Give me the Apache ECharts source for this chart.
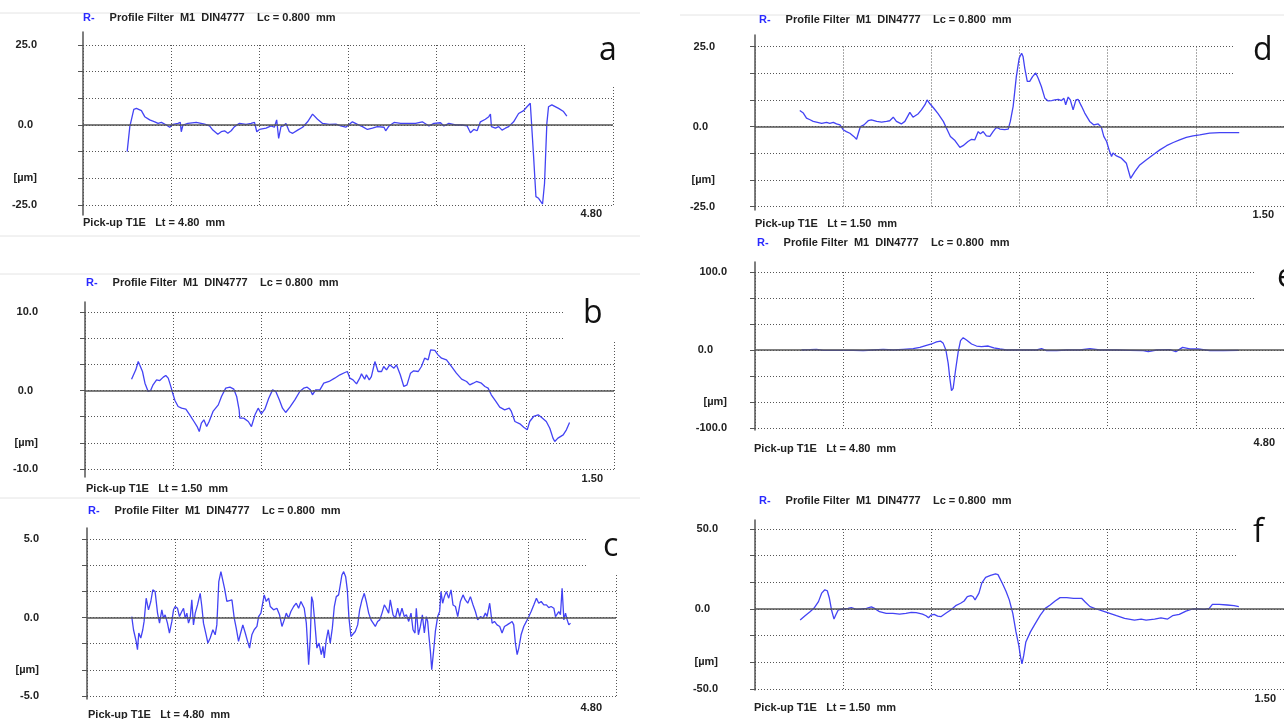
<!DOCTYPE html>
<html>
<head>
<meta charset="utf-8">
<script src="https://cdn.jsdelivr.net/npm/echarts@6/dist/echarts.min.js"></script>
<style>
  html, body { margin: 0; padding: 0; background: #fff; }
  #chart { width: 1284px; height: 719px; }
</style>
</head>
<body>
<div id="chart"></div>
<script>
// profile traces: [position mm, height µm]
const profA = [[0.40,-8.3],[0.424,-0.5],[0.46,4.9],[0.484,5.2],[0.529,4.5],[0.559,2.6],[0.604,1.6],[0.65,1.0],[0.68,0.5],[0.71,0.8],[0.755,0.0],[0.785,-0.7],[0.815,0.2],[0.86,0.5],[0.881,0.8],[0.89,-2.1],[0.905,0.0],[0.95,0.5],[1.026,0.8],[1.101,0.3],[1.146,-0.3],[1.176,-1.6],[1.221,-2.9],[1.252,-2.1],[1.282,-1.8],[1.312,-2.6],[1.342,-1.8],[1.372,-0.5],[1.417,0.5],[1.477,0.2],[1.522,0.5],[1.553,0.8],[1.574,-2.1],[1.598,-1.4],[1.658,-1.0],[1.703,-0.3],[1.733,-0.7],[1.754,1.6],[1.772,-4.2],[1.793,-0.5],[1.814,-0.3],[1.838,0.5],[1.869,-2.1],[1.899,-2.6],[1.944,-1.6],[1.989,-0.7],[2.034,1.0],[2.079,3.4],[2.124,1.8],[2.17,0.5],[2.23,0.2],[2.29,0.3],[2.335,-0.3],[2.38,-0.7],[2.44,1.0],[2.486,0.2],[2.531,-0.5],[2.576,-1.4],[2.621,-1.0],[2.666,-0.5],[2.726,-0.7],[2.741,-1.8],[2.772,-0.3],[2.817,0.8],[2.877,0.5],[2.952,0.5],[3.012,0.5],[3.073,1.0],[3.133,-0.3],[3.178,0.5],[3.238,0.7],[3.268,-0.3],[3.313,0.5],[3.374,0.0],[3.434,0.0],[3.479,-0.3],[3.509,-2.4],[3.539,-1.4],[3.569,-1.8],[3.599,1.0],[3.644,1.8],[3.675,2.6],[3.69,3.4],[3.699,-0.5],[3.735,-1.0],[3.765,-0.5],[3.795,-1.6],[3.825,-1.0],[3.855,-0.5],[3.9,1.0],[3.945,3.6],[3.991,4.5],[4.021,5.7],[4.051,6.8],[4.066,6.6],[4.081,-9.9],[4.102,-22.4],[4.126,-22.9],[4.141,-22.6],[4.162,-24.7],[4.18,-18.2],[4.201,0.5],[4.216,5.7],[4.246,6.3],[4.307,5.2],[4.352,4.2],[4.382,2.8]];

const profB = [[0.132,1.44],[0.137,1.23],[0.144,2.63],[0.151,3.69],[0.156,3.57],[0.163,2.42],[0.170,0.93],[0.179,-0.13],[0.186,0],[0.193,0.72],[0.203,1.36],[0.212,1.27],[0.222,1.70],[0.229,1.91],[0.236,1.57],[0.242,0.72],[0.250,-0.55],[0.255,-1.27],[0.264,-2.04],[0.274,-2.25],[0.286,-2.38],[0.297,-3.10],[0.309,-3.95],[0.318,-4.59],[0.324,-5.22],[0.330,-4.16],[0.337,-3.74],[0.345,-4.59],[0.352,-3.95],[0.363,-2.67],[0.378,-1.83],[0.387,-0.76],[0.399,0.30],[0.411,0.42],[0.422,0.17],[0.430,-0.76],[0.437,-2.46],[0.439,-3.52],[0.450,-3.52],[0.463,-3.95],[0.472,-4.59],[0.482,-3.10],[0.491,-2.25],[0.500,-2.97],[0.510,-2.38],[0.521,-0.98],[0.532,0.08],[0.541,-0.13],[0.551,-1.19],[0.560,-2.25],[0.569,-2.80],[0.581,-2.12],[0.595,-1.19],[0.609,-0.13],[0.620,0.30],[0.630,0.42],[0.639,0.08],[0.645,-0.55],[0.654,0.08],[0.666,0.08],[0.677,0.93],[0.692,1.15],[0.708,1.57],[0.723,2.00],[0.737,2.29],[0.744,2.42],[0.751,1.57],[0.760,1.36],[0.770,0.85],[0.779,1.57],[0.784,2.12],[0.793,1.44],[0.798,2.00],[0.806,1.36],[0.812,1.78],[0.822,3.69],[0.826,3.48],[0.831,2.42],[0.841,2.42],[0.847,3.06],[0.855,2.63],[0.864,3.27],[0.876,2.84],[0.883,3.27],[0.888,3.06],[0.894,2.00],[0.904,0.51],[0.913,0.72],[0.923,2.21],[0.932,2.51],[0.945,2.42],[0.954,3.06],[0.963,4.12],[0.973,3.91],[0.980,5.18],[0.992,5.10],[1.001,4.54],[1.011,4.12],[1.025,3.91],[1.039,3.06],[1.053,2.21],[1.068,1.44],[1.082,1.15],[1.091,0.72],[1.101,0.93],[1.110,1.15],[1.124,0.93],[1.134,0.51],[1.143,0.30],[1.152,-0.55],[1.165,-1.40],[1.176,-2.12],[1.190,-2.46],[1.203,-2.25],[1.209,-2.67],[1.219,-3.95],[1.233,-4.25],[1.244,-4.67],[1.254,-5.01],[1.261,-3.95],[1.272,-3.31],[1.285,-3.10],[1.294,-3.40],[1.308,-3.95],[1.318,-4.80],[1.327,-6.07],[1.332,-6.50],[1.341,-6.07],[1.356,-5.65],[1.365,-5.01],[1.374,-4.08]];

const profC = [[0.406,0.06],[0.422,-0.78],[0.446,-1.52],[0.458,-2.05],[0.470,-0.99],[0.488,-1.31],[0.506,-0.78],[0.518,-0.25],[0.537,1.23],[0.558,0.49],[0.579,1.02],[0.597,1.76],[0.618,1.65],[0.640,0.28],[0.658,-0.36],[0.679,0.49],[0.694,-0.04],[0.709,0.17],[0.730,-0.36],[0.748,-0.99],[0.770,-0.25],[0.785,0.49],[0.800,0.70],[0.821,0.59],[0.839,0.06],[0.860,0.38],[0.876,0.59],[0.891,-0.04],[0.906,0.28],[0.921,-0.36],[0.936,-0.04],[0.951,1.12],[0.966,-0.47],[0.982,0.28],[1.003,0.80],[1.027,1.54],[1.042,0.70],[1.057,-0.36],[1.081,-1.10],[1.097,-1.63],[1.118,-1.31],[1.142,-0.78],[1.163,-1.10],[1.178,-0.47],[1.196,2.29],[1.215,2.92],[1.233,2.81],[1.248,1.86],[1.269,1.02],[1.315,1.12],[1.336,-0.04],[1.354,-0.68],[1.375,-1.52],[1.390,-1.10],[1.414,-0.47],[1.436,-0.99],[1.457,-1.52],[1.475,-1.95],[1.496,-1.10],[1.517,-0.78],[1.542,-0.57],[1.557,0.06],[1.578,0.28],[1.596,0.38],[1.608,1.44],[1.626,1.02],[1.648,1.23],[1.663,0.70],[1.693,0.49],[1.723,0.59],[1.747,0.17],[1.769,-0.57],[1.790,-0.15],[1.808,0.28],[1.829,-0.04],[1.850,0.38],[1.875,0.70],[1.899,0.91],[1.920,0.59],[1.941,1.02],[1.959,1.12],[1.971,0.59],[1.990,-0.36],[2.005,-2.16],[2.011,-3.00],[2.026,-1.31],[2.038,1.33],[2.050,1.02],[2.065,-0.15],[2.086,-1.95],[2.105,-1.63],[2.126,-2.37],[2.141,-1.84],[2.153,-2.58],[2.171,-1.42],[2.189,-0.78],[2.207,-1.63],[2.226,-0.68],[2.244,0.70],[2.262,1.33],[2.283,1.44],[2.298,2.07],[2.313,2.71],[2.329,2.92],[2.347,2.60],[2.362,1.76],[2.377,-0.04],[2.395,-1.21],[2.410,-1.10],[2.434,-0.89],[2.456,-0.47],[2.474,0.49],[2.495,1.12],[2.516,1.54],[2.534,1.02],[2.556,0.28],[2.577,-0.15],[2.595,-0.04],[2.616,-0.57],[2.637,-0.25],[2.656,-0.15],[2.677,0.28],[2.698,0.80],[2.716,0.59],[2.737,0.28],[2.752,1.12],[2.777,0.17],[2.798,-0.04],[2.819,0.59],[2.837,0.06],[2.858,0.59],[2.879,0.06],[2.898,0.17],[2.919,-0.25],[2.940,0.28],[2.958,-0.78],[2.976,-0.99],[2.988,0.59],[3.007,-1.10],[3.025,-0.57],[3.043,0.17],[3.061,-0.99],[3.079,0.06],[3.091,-0.25],[3.103,-1.21],[3.116,-2.16],[3.128,-3.32],[3.146,-2.05],[3.161,-0.89],[3.182,0.06],[3.200,0.38],[3.212,1.65],[3.227,0.91],[3.243,1.33],[3.261,1.65],[3.282,1.23],[3.303,1.76],[3.321,0.80],[3.343,0.70],[3.364,0.06],[3.388,1.02],[3.412,1.44],[3.433,1.12],[3.455,0.91],[3.479,1.33],[3.503,0.80],[3.524,0.38],[3.545,-0.15],[3.570,0.06],[3.594,-0.04],[3.615,0.28],[3.630,0.06],[3.654,0.91],[3.676,-0.36],[3.697,-0.25],[3.721,-0.47],[3.745,-0.57],[3.766,-0.99],[3.788,-0.57],[3.812,-0.47],[3.836,-0.36],[3.857,-0.25],[3.872,-0.47],[3.887,-1.63],[3.903,-2.37],[3.918,-1.95],[3.939,-1.10],[3.963,-0.57],[3.987,-0.25],[4.009,0.06],[4.030,0.38],[4.054,0.80],[4.078,1.23],[4.099,0.91],[4.121,1.02],[4.145,0.80],[4.169,0.80],[4.190,0.63],[4.211,0.70],[4.236,0.59],[4.251,0.06],[4.266,-0.04],[4.281,0.38],[4.296,0.17],[4.311,1.86],[4.327,-0.15],[4.342,0.28],[4.357,-0.15],[4.372,-0.47],[4.387,-0.36]];

const profD = [[0.127,5.0],[0.137,4.2],[0.146,2.6],[0.156,2.1],[0.165,1.6],[0.174,1.4],[0.189,1.0],[0.203,1.3],[0.212,1.0],[0.222,1.3],[0.231,0.8],[0.241,0.5],[0.250,-1.0],[0.259,-1.6],[0.269,-2.1],[0.274,-2.4],[0.280,-3.1],[0.288,-4.0],[0.293,-2.1],[0.299,0.0],[0.309,0.5],[0.321,1.8],[0.330,2.1],[0.345,1.6],[0.359,1.4],[0.373,1.6],[0.382,1.8],[0.392,2.9],[0.401,1.6],[0.415,0.8],[0.425,1.6],[0.439,4.4],[0.448,2.9],[0.463,4.0],[0.472,5.2],[0.482,6.8],[0.488,8.3],[0.496,7.1],[0.507,5.7],[0.519,4.0],[0.534,1.6],[0.545,-1.0],[0.554,-3.1],[0.567,-4.4],[0.581,-6.5],[0.590,-6.0],[0.604,-4.7],[0.614,-4.0],[0.623,-4.2],[0.633,-1.6],[0.639,-2.3],[0.647,-1.6],[0.656,-2.9],[0.666,-3.1],[0.675,-1.6],[0.685,-0.2],[0.694,-0.8],[0.708,-1.0],[0.718,-0.8],[0.724,1.6],[0.732,6.3],[0.741,15.6],[0.749,21.3],[0.756,22.9],[0.760,21.9],[0.765,18.2],[0.772,14.1],[0.779,14.1],[0.787,15.6],[0.796,16.7],[0.803,15.1],[0.812,12.5],[0.822,8.8],[0.831,8.0],[0.841,8.1],[0.850,8.3],[0.860,8.5],[0.869,8.1],[0.876,8.8],[0.881,6.8],[0.888,9.2],[0.894,8.3],[0.902,5.2],[0.910,8.3],[0.916,8.5],[0.926,6.3],[0.935,4.2],[0.949,1.6],[0.961,0.5],[0.973,0.8],[0.982,-0.2],[0.989,-3.1],[0.997,-4.7],[1.004,-7.3],[1.011,-9.4],[1.015,-8.3],[1.025,-9.2],[1.039,-9.9],[1.053,-11.5],[1.065,-16.2],[1.077,-14.1],[1.091,-12.0],[1.110,-10.4],[1.129,-8.8],[1.148,-7.3],[1.167,-6.0],[1.186,-5.0],[1.204,-4.2],[1.223,-3.4],[1.242,-2.9],[1.261,-2.6],[1.289,-2.1],[1.318,-1.9],[1.346,-1.9],[1.373,-1.9]];

const profE = [[0.422,0],[0.498,0.4],[0.558,0.9],[0.619,-0.4],[0.709,-0.4],[0.800,-0.4],[0.891,-0.4],[0.982,-0.9],[1.072,0],[1.163,0.9],[1.254,0],[1.345,0.9],[1.435,1.7],[1.496,3.4],[1.556,6.0],[1.602,7.7],[1.647,10.3],[1.683,11.5],[1.708,8.5],[1.732,0],[1.753,-17.1],[1.768,-36.3],[1.783,-52.1],[1.798,-49.2],[1.820,-25.6],[1.844,-2.1],[1.865,12.0],[1.889,15.8],[1.919,12.8],[1.965,7.7],[2.010,5.1],[2.055,4.3],[2.116,5.1],[2.167,2.6],[2.222,1.3],[2.282,0],[2.434,0],[2.555,0],[2.600,1.7],[2.645,-0.9],[2.736,-0.9],[2.827,0],[2.948,0],[3.039,1.7],[3.129,0],[3.281,0],[3.402,-0.4],[3.523,-0.9],[3.568,-2.1],[3.644,0],[3.765,0.4],[3.819,-2.1],[3.880,3.4],[3.946,1.3],[4.022,1.3],[4.128,-0.9],[4.249,-0.9],[4.385,-0.4]];

const profF = [[0.128,-6.9],[0.142,-4.2],[0.156,-1.7],[0.167,0.4],[0.180,4.6],[0.189,9.9],[0.198,12.0],[0.205,11.4],[0.211,6.7],[0.217,-0.6],[0.224,-6.3],[0.229,-3.8],[0.236,-0.6],[0.250,0],[0.264,0.4],[0.273,0.8],[0.288,-0.2],[0.302,0],[0.316,0.4],[0.330,1.3],[0.339,0.4],[0.353,-1.7],[0.372,-2.7],[0.391,-2.7],[0.410,-3.2],[0.428,-2.7],[0.443,-2.1],[0.457,-2.3],[0.475,-3.2],[0.485,-4.2],[0.492,-5.5],[0.499,-3.8],[0.508,-3.4],[0.518,-4.4],[0.527,-4.8],[0.541,-2.7],[0.555,-0.6],[0.569,2.1],[0.583,3.6],[0.593,5.0],[0.602,7.8],[0.612,8.4],[0.618,7.8],[0.624,5.7],[0.628,4.6],[0.635,9.9],[0.643,16.2],[0.654,19.8],[0.668,21.0],[0.682,21.9],[0.689,21.5],[0.701,16.2],[0.712,10.9],[0.721,5.7],[0.731,-2.7],[0.740,-14.3],[0.748,-22.7],[0.753,-30.1],[0.757,-34.3],[0.762,-29.0],[0.768,-20.6],[0.781,-14.3],[0.795,-9.0],[0.809,-3.8],[0.823,0.4],[0.837,2.5],[0.851,5.0],[0.865,7.1],[0.884,7.1],[0.903,6.7],[0.926,6.7],[0.937,4.2],[0.950,1.5],[0.968,0],[0.987,-1.3],[1.006,-2.7],[1.025,-4.2],[1.048,-5.9],[1.076,-6.9],[1.095,-6.3],[1.109,-6.9],[1.133,-6.3],[1.151,-5.5],[1.170,-6.3],[1.184,-4.2],[1.203,-3.4],[1.222,-1.3],[1.241,0],[1.255,0],[1.274,-0.2],[1.288,0.4],[1.297,2.9],[1.316,2.9],[1.339,2.5],[1.358,2.1],[1.372,1.5]];

const panelLetters = ['a', 'b', 'c', 'd', 'e', 'f'];
const yRanges = [25, 10, 5, 25, 100, 50];        // ± full scale, µm
const traceLengths = [4.8, 1.5, 4.8, 1.5, 4.8, 1.5]; // Lt, mm
const lengthLabels = ['4.80', '1.50', '4.80', '1.50', '4.80', '1.50'];
const headerText = 'Profile Filter  M1  DIN4777    Lc = 0.800  mm';

// layout of each panel in the picture (px)
const layout = [
  { grid: [83, 45, 530, 160],  axis: [32, 215],  labRight: 37,  zeroPad: 4,  head: [83, 8.5],  pick: [83, 217.5],  endPad: 11, endMargin: 3, letter: [599, 35],   mask: [527, 36, 100, 51] },
  { grid: [85, 312, 529, 157], axis: [302, 477], labRight: 38,  zeroPad: 5,  head: [86, 274], pick: [86, 483.5],  endPad: 11, endMargin: 4, letter: [583, 298],  mask: [565, 300, 60, 41] },
  { grid: [87, 539, 529, 157], axis: [528, 699], labRight: 39,  zeroPad: 0,  head: [88, 501.5], pick: [88, 709.5],  endPad: 14, endMargin: 6, letter: [603, 531],  mask: [588, 530, 40, 43] },
  { grid: [755, 46.5, 529, 160], axis: [35, 210], labRight: 715, zeroPad: 7, head: [759, 10.5], pick: [755, 218.5], endPad: 10, endMargin: 3, letter: [1253, 35], mask: [1235, 36, 60, 39] },
  { grid: [755, 272, 529, 156], axis: [262, 430], labRight: 727, zeroPad: 14, head: [757, 233.5], pick: [754, 443.5], endPad: 9, endMargin: 9, letter: [1277, 262], mask: [1256, 262, 40, 43] },
  { grid: [755, 529, 531, 160], axis: [520, 690], labRight: 718, zeroPad: 8, head: [759, 492], pick: [754, 702.5], endPad: 8, endMargin: 4, letter: [1253, 517], mask: [1237, 520, 60, 38] }
];
const traces = [profA, profB, profC, profD, profE, profF];

// faint frame lines of the pasted screenshots
const frameLines = [[0, 13, 640], [0, 236, 640], [0, 274, 640], [0, 498, 640], [680, 15, 1284]];

const FONT = '"Liberation Sans", Arial, sans-serif';
const small = { fontFamily: FONT, fontSize: 11, fontWeight: 'bold', color: '#222' };
const dotted = { type: [1, 2], color: '#555', width: 1 };

const grid = [], xAxis = [], yAxis = [], series = [], title = [], graphic = [];

traces.forEach(function (data, i) {
  const L = layout[i];
  const M = yRanges[i];
  const X = traceLengths[i];
  const g = grid.length;

  // plotting area
  grid.push({ left: L.grid[0], top: L.grid[1], width: L.grid[2], height: L.grid[3] });
  xAxis.push({
    gridIndex: g, type: 'value', min: 0, max: X, interval: X / 6,
    axisLine: { show: false }, axisTick: { show: false },
    splitLine: { show: true, lineStyle: dotted },
    axisLabel: Object.assign({}, small, {
      showMinLabel: false, showMaxLabel: true, align: 'right',
      margin: L.endMargin, padding: [0, L.endPad, 0, 0],
      formatter: function (v) { return Math.abs(v - X) < 1e-6 ? lengthLabels[i] : ''; }
    })
  });
  yAxis.push({
    gridIndex: g, type: 'value', min: -M, max: M, interval: M / 3,
    axisLine: { show: false },
    axisTick: { show: true, length: 5, lineStyle: { color: '#555' } },
    splitLine: { show: true, lineStyle: dotted },
    axisLabel: Object.assign({}, small, {
      margin: L.grid[0] - L.labRight,
      formatter: function (v) {
        if (Math.abs(Math.abs(v) - M) < 1e-3) return v.toFixed(1);
        if (Math.abs(v) < 1e-3) return '{z|0.0}';
        if (Math.abs(v + M * 2 / 3) < 1e-3) return '[µm]';
        return '';
      },
      rich: { z: Object.assign({}, small, { padding: [0, L.zeroPad, 0, 0] }) }
    })
  });
  series.push({
    type: 'line', xAxisIndex: g, yAxisIndex: g, data: data,
    showSymbol: false, animation: false,
    lineStyle: { color: '#4343f4', width: 1.3 },
    markLine: {
      silent: true, symbol: 'none', animation: false,
      label: { show: false },
      lineStyle: { color: '#555', type: 'solid', width: 1.5 },
      data: [{ yAxis: 0 }]
    }
  });

  // the solid y axis, a little longer than the grid
  grid.push({ left: L.grid[0], top: L.axis[0], width: 10, height: L.axis[1] - L.axis[0] });
  xAxis.push({ gridIndex: g + 1, type: 'value', show: false });
  yAxis.push({
    gridIndex: g + 1, type: 'value', min: 0, max: 1,
    axisLine: { show: true, lineStyle: { color: '#555', width: 1.5 } },
    axisTick: { show: false }, axisLabel: { show: false }, splitLine: { show: false }
  });

  title.push({
    left: L.head[0], top: L.head[1], z: 10, padding: 0,
    text: '{r|R-}   {t|' + headerText + '}',
    textStyle: {
      rich: {
        r: Object.assign({}, small, { color: '#2a2aff' }),
        t: small
      }
    }
  });
  title.push({
    left: L.pick[0], top: L.pick[1], z: 10, padding: 0,
    text: 'Pick-up T1E   Lt = ' + lengthLabels[i] + '  mm',
    textStyle: small
  });
  title.push({
    left: L.letter[0], top: L.letter[1], z: 10, padding: 0,
    text: panelLetters[i],
    textStyle: { fontFamily: '"Open Sans", sans-serif', fontSize: 32, fontWeight: 'normal', color: '#111' }
  });
  graphic.push({
    type: 'rect', z: 8, silent: true,
    shape: { x: L.mask[0], y: L.mask[1], width: L.mask[2], height: L.mask[3] },
    style: { fill: '#fff' }
  });
});

frameLines.forEach(function (f) {
  graphic.push({
    type: 'line', z: 1, silent: true,
    shape: { x1: f[0], y1: f[1], x2: f[2], y2: f[1] },
    style: { stroke: '#e4e4e4', lineWidth: 1 }
  });
});

const chart = echarts.init(document.getElementById('chart'));
chart.setOption({
  backgroundColor: '#fff',
  animation: false,
  title: title,
  grid: grid,
  xAxis: xAxis,
  yAxis: yAxis,
  series: series,
  graphic: graphic
});
</script>
</body>
</html>
